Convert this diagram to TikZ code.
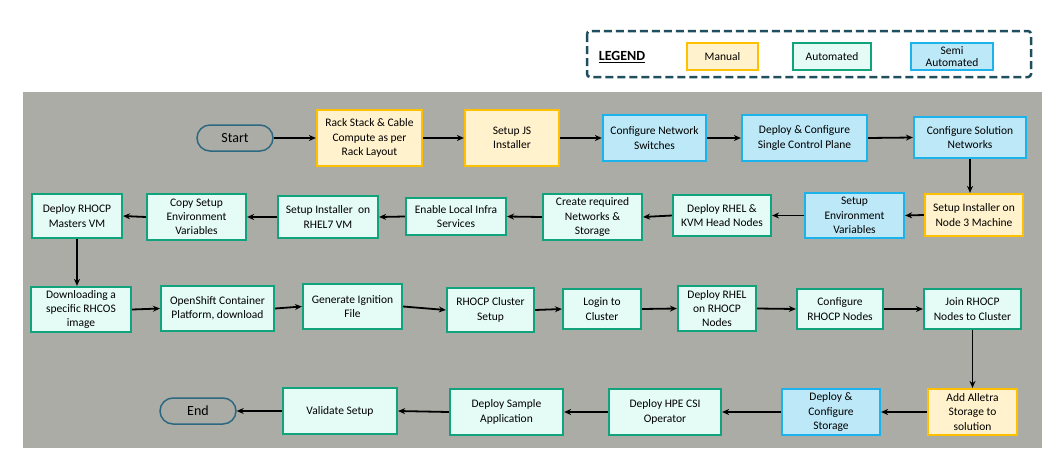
\documentclass[tikz,border=0pt]{standalone}
\usepackage{fontspec}
\setmainfont{Carlito}
\usetikzlibrary{arrows.meta}
\definecolor{bgG}{RGB}{172,172,166}
\definecolor{manF}{RGB}{255,242,204}
\definecolor{manB}{RGB}{255,192,0}
\definecolor{autF}{RGB}{229,251,246}
\definecolor{autB}{RGB}{16,163,124}
\definecolor{semF}{RGB}{188,232,247}
\definecolor{semB}{RGB}{28,178,234}
\definecolor{termB}{RGB}{44,104,128}
\definecolor{legB}{RGB}{31,78,95}
\tikzset{
  box/.style={draw, line width=2.2pt, align=center, inner sep=0pt, font=\fontsize{11.5}{14.3}\selectfont},
  manual/.style={box, draw=manB, fill=manF},
  autom/.style={box, draw=autB, fill=autF},
  semi/.style={box, draw=semB, fill=semF},
  term/.style={draw=termB, line width=1.5pt, rounded corners=13pt, fill=bgG, inner sep=0pt, font=\fontsize{14}{16}\selectfont},
  arr/.style={line width=1.8pt, -{Stealth[length=7pt,width=6pt]}},
  lg/.style={line width=1.8pt, minimum height=27pt, font=\fontsize{11.5}{12.5}\selectfont}
}
\begin{document}
\begin{tikzpicture}[x=1pt,y=-1pt]
\useasboundingbox (0,0) rectangle (1060,466);
\fill[bgG] (23,92) rectangle (1042,448);
% legend
\draw[legB, line width=2.5pt, dash pattern=on 8pt off 4pt, rounded corners=3pt] (587,31) rectangle (1031,77);
\node[font=\bfseries\fontsize{14}{16}\selectfont] (leg) at (622,57) {\underline{LEGEND}};
\node[manual, lg, minimum width=71pt] (lman) at (722.5,56.5) {Manual};
\node[autom, lg, minimum width=78pt] (laut) at (832,56.5) {Automated};
\node[semi, lg, minimum width=82pt, font=\fontsize{11.5}{12.5}\selectfont] (lsem) at (952,56.5) {Semi\\Automated};
% row 1
\node[term, minimum width=76pt, minimum height=26pt] (start) at (235,138) {Start};
\node[manual, minimum width=105pt, minimum height=56pt] (rack) at (369.5,138) {Rack Stack \& Cable\\Compute as per\\Rack Layout};
\node[manual, minimum width=94pt, minimum height=56pt] (js) at (512,138) {Setup JS\\Installer};
\node[semi, minimum width=103pt, minimum height=46pt] (cns) at (654.5,138) {Configure Network\\Switches};
\node[semi, minimum width=125pt, minimum height=46pt] (dcp) at (804.5,138) {Deploy \& Configure\\Single Control Plane};
\node[semi, minimum width=112pt, minimum height=41pt] (csn) at (970,137.5) {Configure Solution\\Networks};
% row 2
\node[manual, minimum width=98pt, minimum height=42pt] (n3) at (974,215) {Setup Installer on\\Node 3 Machine};
\node[semi, minimum width=99pt, minimum height=45pt] (sev) at (854.5,215.5) {Setup\\Environment\\Variables};
\node[autom, minimum width=98pt, minimum height=41pt] (kvm) at (722,215.5) {Deploy RHEL \&\\KVM Head Nodes};
\node[autom, minimum width=99pt, minimum height=46pt] (crn) at (592.5,217) {Create required\\Networks \&\\Storage};
\node[autom, minimum width=100pt, minimum height=37pt] (eli) at (456,216.5) {Enable Local Infra\\Services};
\node[autom, minimum width=100pt, minimum height=42pt] (rh7) at (328,217) {Setup Installer\ \ on\\RHEL7 VM};
\node[autom, minimum width=99pt, minimum height=46pt] (cpy) at (196.5,217) {Copy Setup\\Environment\\Variables};
\node[autom, minimum width=90pt, minimum height=44pt] (mvm) at (77,216) {Deploy RHOCP\\Masters VM};
% row 3
\node[autom, minimum width=100pt, minimum height=45pt] (dl) at (81,309.5) {Downloading a\\specific RHCOS\\image};
\node[autom, minimum width=113pt, minimum height=45pt] (ocp) at (217.5,308.5) {OpenShift Container\\Platform, download};
\node[autom, minimum width=99pt, minimum height=45pt] (ign) at (352.5,306.5) {Generate Ignition\\File};
\node[autom, minimum width=87pt, minimum height=44pt] (rcs) at (490.5,310) {RHOCP Cluster\\Setup};
\node[autom, minimum width=78pt, minimum height=40pt] (login) at (602,309) {Login to\\Cluster};
\node[autom, minimum width=78pt, minimum height=45pt] (drn) at (717,308.5) {Deploy RHEL\\on RHOCP\\Nodes};
\node[autom, minimum width=86pt, minimum height=40pt] (crh) at (840,309) {Configure\\RHOCP Nodes};
\node[autom, minimum width=97pt, minimum height=40pt] (join) at (972.5,309) {Join RHOCP\\Nodes to Cluster};
% row 4
\node[manual, minimum width=89pt, minimum height=46pt] (alle) at (972.5,412) {Add Alletra\\Storage to\\solution};
\node[semi, minimum width=98pt, minimum height=46pt] (dcs) at (831,412) {Deploy \&\\Configure\\Storage};
\node[autom, minimum width=112pt, minimum height=46pt] (csi) at (665,412) {Deploy HPE CSI\\Operator};
\node[autom, minimum width=113pt, minimum height=46pt] (dsa) at (506.5,412) {Deploy Sample\\Application};
\node[autom, minimum width=114pt, minimum height=46pt] (val) at (340,411) {Validate Setup};
\node[term, minimum width=76pt, minimum height=26pt] (end) at (198,411) {End};
% connectors
\draw[arr] (start.east) -- (rack.west);
\draw[arr] (rack.east) -- (js.west);
\draw[arr] (js.east) -- (cns.west);
\draw[arr] (cns.east) -- (dcp.west);
\draw[arr] (dcp.east) -- (csn.west);
\draw[arr] (csn.south) -- (csn.south |- n3.north);
\draw[arr] (n3.west) -- (sev.east);
\draw[arr] (sev.west) -- (kvm.east);
\draw[arr] (kvm.west) -- (crn.east);
\draw[arr] (crn.west) -- (eli.east);
\draw[arr] (eli.west) -- (rh7.east);
\draw[arr] (rh7.west) -- (cpy.east);
\draw[arr] (cpy.west) -- (mvm.east);
\draw[arr] (mvm.south) -- (mvm.south |- dl.north);
\draw[arr] (dl.east) -- (ocp.west);
\draw[arr] (ocp.east) -- (ign.west);
\draw[arr] (ign.east) -- (rcs.west);
\draw[arr] (rcs.east) -- (login.west);
\draw[arr] (login.east) -- (drn.west);
\draw[arr] (drn.east) -- (crh.west);
\draw[arr] (crh.east) -- (join.west);
\draw[arr] (join.south) -- (join.south |- alle.north);
\draw[arr] (alle.west) -- (dcs.east);
\draw[arr] (dcs.west) -- (csi.east);
\draw[arr] (csi.west) -- (dsa.east);
\draw[arr] (dsa.west) -- (val.east);
\draw[arr] (val.west) -- (end.east);
\end{tikzpicture}
\end{document}
